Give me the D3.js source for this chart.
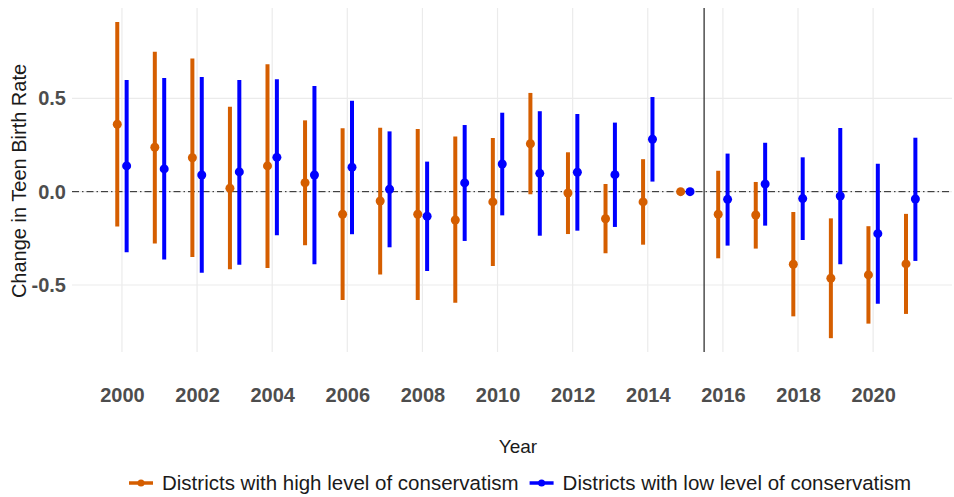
<!DOCTYPE html>
<html>
<head>
<meta charset="utf-8">
<script src="https://cdn.jsdelivr.net/npm/d3@7"></script>
<style>
  body { margin: 0; background: #fff; }
  svg { font-family: "Liberation Sans", Arial, sans-serif; }
</style>
</head>
<body>
<svg id="chart" width="954" height="497"></svg>
<script>
// years and estimates
const years = [2000, 2001, 2002, 2003, 2004, 2005, 2006, 2007, 2008, 2009, 2010,
               2011, 2012, 2013, 2014, 2015, 2016, 2017, 2018, 2019, 2020, 2021];

const highEst = [0.361, 0.238, 0.182, 0.018, 0.138, 0.048, -0.121, -0.050, -0.121, -0.152, -0.055,
                 0.257, -0.007, -0.145, -0.055, 0.000, -0.121, -0.125, -0.389, -0.464, -0.446, -0.387];
const highLo  = [-0.187, -0.278, -0.350, -0.416, -0.409, -0.287, -0.580, -0.444, -0.580, -0.595, -0.398,
                 -0.014, -0.227, -0.330, -0.284, null, -0.357, -0.305, -0.668, -0.785, -0.707, -0.655];
const highHi  = [0.909, 0.750, 0.714, 0.455, 0.682, 0.382, 0.340, 0.343, 0.336, 0.295, 0.288,
                 0.529, 0.211, 0.041, 0.174, null, 0.112, 0.052, -0.109, -0.143, -0.185, -0.119];

const lowEst = [0.138, 0.122, 0.089, 0.106, 0.184, 0.089, 0.131, 0.013, -0.132, 0.047, 0.148,
                0.098, 0.104, 0.091, 0.281, 0.000, -0.041, 0.041, -0.037, -0.023, -0.225, -0.039];
const lowLo  = [-0.325, -0.364, -0.434, -0.391, -0.234, -0.389, -0.228, -0.298, -0.425, -0.264, -0.127,
                -0.236, -0.209, -0.189, 0.054, null, -0.289, -0.182, -0.259, -0.389, -0.601, -0.371];
const lowHi  = [0.598, 0.609, 0.614, 0.598, 0.602, 0.566, 0.487, 0.323, 0.161, 0.357, 0.423,
                0.431, 0.416, 0.370, 0.507, null, 0.204, 0.262, 0.184, 0.341, 0.150, 0.289];

const groups = ["Districts with high level of conservatism", "Districts with low level of conservatism"];
const colors = ["#D55E00", "#0000FF"];
const xTicks = [2000, 2002, 2004, 2006, 2008, 2010, 2012, 2014, 2016, 2018, 2020];
const yTicks = [-0.5, 0, 0.5];

const svg = d3.select("#chart");
const margin = { top: 8, left: 72, right: 2, bottom: 145 };
const width = 954 - margin.left - margin.right;
const height = 497 - margin.top - margin.bottom;

const x = d3.scaleLinear().domain([1998.67, 2022.1]).range([0, width]);
const y = d3.scaleLinear().domain([-0.859, 0.984]).range([height, 0]);
const dodge = 0.125;

const g = svg.append("g").attr("transform", `translate(${margin.left},${margin.top})`);

// grid
g.append("g").selectAll("line")
    .data(yTicks)
    .enter().append("line")
    .attr("x1", 0).attr("x2", width)
    .attr("y1", d => y(d)).attr("y2", d => y(d))
    .attr("stroke", "#ebebeb").attr("stroke-width", 1.2);

g.append("g").selectAll("line")
    .data(xTicks)
    .enter().append("line")
    .attr("x1", d => x(d)).attr("x2", d => x(d))
    .attr("y1", 0).attr("y2", height)
    .attr("stroke", "#ebebeb").attr("stroke-width", 1.2);

// reference lines
g.append("line")
    .attr("x1", 0).attr("x2", width)
    .attr("y1", y(0)).attr("y2", y(0))
    .attr("stroke", "#222").attr("stroke-width", 1)
    .attr("stroke-dasharray", "7,3,1.5,3");

g.append("line")
    .attr("x1", x(2015.5)).attr("x2", x(2015.5))
    .attr("y1", 0).attr("y2", height)
    .attr("stroke", "#333").attr("stroke-width", 1.3);

// build rows for each series
const series = [
    { name: groups[0], color: colors[0], off: -dodge, est: highEst, lo: highLo, hi: highHi },
    { name: groups[1], color: colors[1], off: dodge, est: lowEst, lo: lowLo, hi: lowHi }
];

series.forEach(s => {
    const rows = years.map((yr, i) => ({ year: yr, est: s.est[i], lo: s.lo[i], hi: s.hi[i] }));
    const sg = g.append("g");

    sg.selectAll("line")
        .data(rows.filter(d => d.lo !== null))
        .enter().append("line")
        .attr("x1", d => x(d.year + s.off)).attr("x2", d => x(d.year + s.off))
        .attr("y1", d => y(d.lo)).attr("y2", d => y(d.hi))
        .attr("stroke", s.color).attr("stroke-width", 4);

    sg.selectAll("circle")
        .data(rows)
        .enter().append("circle")
        .attr("cx", d => x(d.year + s.off))
        .attr("cy", d => y(d.est))
        .attr("r", 4.5)
        .attr("fill", s.color);
});

// axes
const yAxis = g.append("g")
    .call(d3.axisLeft(y).tickValues(yTicks).tickSize(0).tickPadding(6)
        .tickFormat(d => d3.format(".1f")(d).replace("\u2212", "-")));
yAxis.select(".domain").remove();
yAxis.selectAll("text")
    .attr("font-size", 20).attr("font-weight", "bold").attr("fill", "#4d4d4d")
    .attr("font-family", "Liberation Sans, Arial, sans-serif");

const xAxis = g.append("g")
    .attr("transform", `translate(0,${height})`)
    .call(d3.axisBottom(x).tickValues(xTicks).tickSize(0).tickPadding(36).tickFormat(d3.format("d")));
xAxis.select(".domain").remove();
xAxis.selectAll("text")
    .attr("font-size", 20).attr("font-weight", "bold").attr("fill", "#4d4d4d")
    .attr("font-family", "Liberation Sans, Arial, sans-serif");

// titles
svg.append("text")
    .attr("transform", `translate(26,${margin.top + height / 2 + 1}) rotate(-90)`)
    .attr("text-anchor", "middle")
    .attr("font-size", 20)
    .attr("fill", "#1a1a1a")
    .text("Change in Teen Birth Rate");

svg.append("text")
    .attr("x", 518).attr("y", 453)
    .attr("text-anchor", "middle")
    .attr("font-size", 19)
    .attr("fill", "#1a1a1a")
    .text("Year");

// legend
const legend = svg.append("g").attr("transform", "translate(129,483)");
let lx = 0;
series.forEach(s => {
    const item = legend.append("g").attr("transform", `translate(${lx},0)`);
    item.append("line")
        .attr("x1", 0).attr("x2", 24).attr("y1", 0).attr("y2", 0)
        .attr("stroke", s.color).attr("stroke-width", 3.5);
    item.append("circle")
        .attr("cx", 12).attr("cy", 0).attr("r", 3.5)
        .attr("fill", s.color);
    const t = item.append("text")
        .attr("x", 33).attr("y", 7)
        .attr("font-size", 20.5)
        .attr("fill", "#1a1a1a")
        .text(s.name);
    lx += 33 + t.node().getComputedTextLength() + 11;
});
</script>
</body>
</html>
